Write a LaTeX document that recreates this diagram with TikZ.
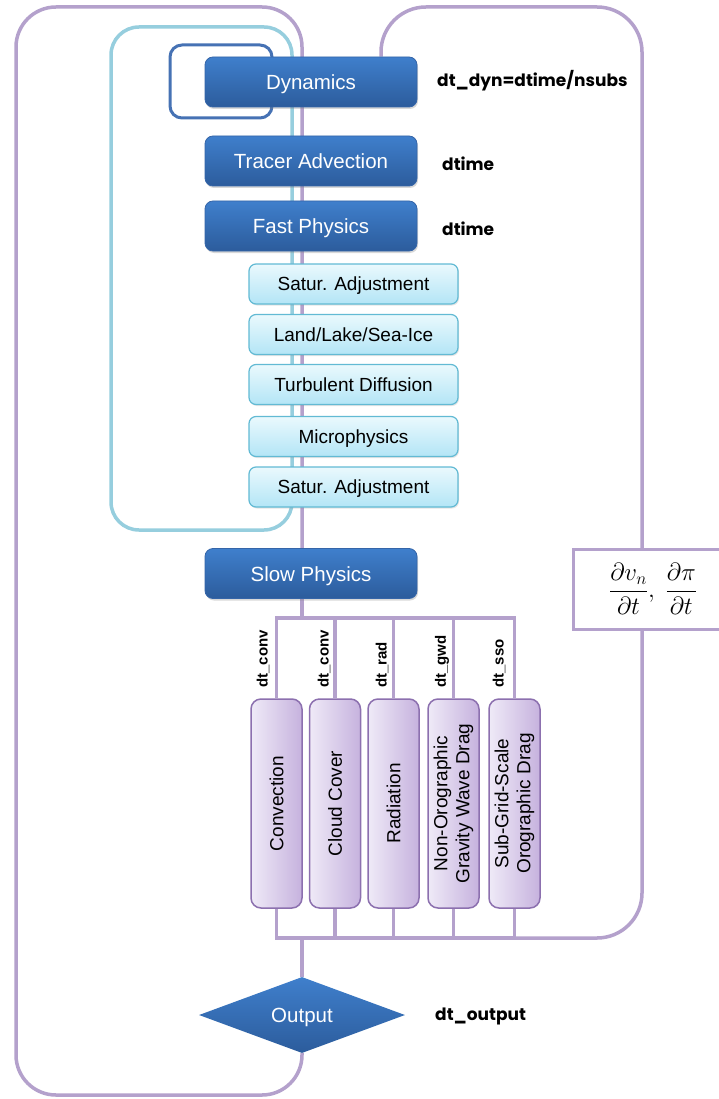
\documentclass[tikz,border=0pt]{standalone}
\usepackage{fontspec}
\setmainfont{Liberation Sans}
\newfontfamily\lblfont{Poppins}
\usetikzlibrary{shapes.geometric,shadows}
\definecolor{dkTop}{HTML}{3F7FCC}
\definecolor{dkBot}{HTML}{2C5C9C}
\definecolor{dkBorder}{HTML}{3565A8}
\definecolor{cyTop}{HTML}{EAF9FD}
\definecolor{cyBot}{HTML}{B3E5F6}
\definecolor{cyBorder}{HTML}{62BAD4}
\definecolor{puLight}{HTML}{EFEAF7}
\definecolor{puDark}{HTML}{C6B2DE}
\definecolor{puBorder}{HTML}{8C70AF}
\definecolor{plc}{HTML}{B4A1CC}
\definecolor{cyLoop}{HTML}{96CEDE}
\definecolor{blLoop}{HTML}{4672B4}
\pgfdeclarelayer{back}
\pgfdeclarelayer{bg}
\pgfsetlayers{back,bg,main}
\tikzset{
  darkbox/.style={rounded corners=8pt, minimum width=212pt, minimum height=50pt,
    top color=dkTop, bottom color=dkBot, draw=dkBorder, line width=0.8pt,
    text=white, font=\fontsize{20.5}{24}\selectfont, text height=15pt, text depth=0pt,
    drop shadow={shadow xshift=1pt, shadow yshift=-2pt, opacity=.3}},
  cyanbox/.style={rounded corners=7pt, minimum width=209pt, minimum height=40pt,
    top color=cyTop, bottom color=cyBot, draw=cyBorder, line width=1.2pt,
    text=black, font=\fontsize{19}{22}\selectfont, text height=13.5pt, text depth=0pt,
    drop shadow={shadow xshift=1pt, shadow yshift=-1.5pt, opacity=.2}},
  purplebox/.style={rotate=90, rounded corners=10pt, minimum width=209pt, minimum height=51pt,
    left color=puLight, right color=puDark, draw=puBorder, line width=1.5pt,
    text=black, align=center, inner sep=1pt, font=\fontsize{19}{22}\selectfont},
  outdiam/.style={diamond, aspect=2.7, inner sep=0pt, minimum width=206pt, minimum height=76pt,
    top color=dkTop, bottom color=dkBot, text=white, font=\fontsize{20.5}{24}\selectfont,
    text height=15pt, text depth=0pt},
  lbl/.style={anchor=west, inner sep=0pt, font=\lblfont\bfseries\fontsize{17}{20}\selectfont},
  rlbl/.style={rotate=90, anchor=west, inner sep=0pt, font=\bfseries\fontsize{15}{18}\selectfont},
  pline/.style={draw=plc, line width=3.5pt},
  cyanloop/.style={draw=cyLoop, line width=3.5pt, rounded corners=28pt},
  blueloop/.style={draw=blLoop, line width=3pt, rounded corners=12pt},
  formbox/.style={draw=plc, line width=3pt, fill=white, minimum width=160pt, minimum height=80pt,
    font=\fontsize{24}{28}\selectfont}
}
\begin{document}
\begin{tikzpicture}[x=1pt,y=-1pt]
\useasboundingbox (0,0) rectangle (718,1099);
\begin{pgfonlayer}{back}
  \fill[white] (0,0) rectangle (718,1099);
\end{pgfonlayer}
\coordinate (busT) at (0,618);
\coordinate (busB) at (0,938);
\coordinate (spine) at (302,0);
\coordinate (rl) at (381,0);

% loops in the background
\draw[cyanloop] (111,27) rectangle (292,530);
\draw[blueloop] (170,45) rectangle (272,118);

% main column
\node[darkbox] (dyn) at (311,82) {Dynamics};
\node[darkbox] (tracer) at (311,161) {Tracer Advection};
\node[darkbox] (fast) at (311,226) {Fast Physics};
\node[cyanbox] (sat1) at (353.5,284) {Satur. Adjustment};
\node[cyanbox] (land) at (353.5,334.5) {Land/Lake/Sea-Ice};
\node[cyanbox] (turb) at (353.5,384.5) {Turbulent Diffusion};
\node[cyanbox] (micro) at (353.5,436.5) {Microphysics};
\node[cyanbox] (sat2) at (353.5,487) {Satur. Adjustment};
\node[darkbox] (slow) at (311,573.5) {Slow Physics};

% slow physics boxes
\node[purplebox] (conv) at (276.5,803.5) {Convection};
\node[purplebox] (cloud) at (335,803.5) {Cloud Cover};
\node[purplebox] (rad) at (393.5,803.5) {Radiation};
\node[purplebox] (gwd) at (453.5,803.5) {Non-Orographic\\Gravity Wave Drag};
\node[purplebox] (sso) at (514.5,803.5) {Sub-Grid-Scale\\Orographic Drag};

% output
\node[outdiam] (out) at (302,1015) {Output};

% labels
\node[lbl] (ldyn) at (437,81) {dt\_dyn=dtime/nsubs};
\node[lbl] (ltr) at (442,164) {dtime};
\node[lbl] (lfast) at (442,229) {dtime};
\node[lbl] (lout) at (435,1016) {dt\_output};
\node[rlbl] (lconv) at (263,688) {dt\_conv};
\node[rlbl] (lcloud) at (324,688) {dt\_conv};
\node[rlbl] (lrad) at (382,688) {dt\_rad};
\node[rlbl] (lgwd) at (442,688) {dt\_gwd};
\node[rlbl] (lsso) at (499,688) {dt\_sso};

\begin{pgfonlayer}{bg}
  % left loop
  \draw[pline, rounded corners=40pt] (spine |- slow.north) -- (302,7) -- (16,7) -- (16,1095) -- (302,1095) -- (out.south);
  % slow physics to top bus
  \draw[pline] (spine |- slow.south) -- (spine |- busT);
  \draw[pline] (conv) -- (conv |- busT) -- (sso |- busT) -- (sso);
  \foreach \n in {cloud,rad,gwd} \draw[pline] (\n |- busT) -- (\n);
  % bottom bus
  \draw[pline] (conv) -- (conv |- busB) -- (sso |- busB) -- (sso);
  \foreach \n in {cloud,rad,gwd} \draw[pline] (\n) -- (\n |- busB);
  \draw[pline] (spine |- busB) -- (out);
  % right loop
  \draw[pline, rounded corners=45pt] (sso |- busB) -- (642,938) -- (642,7) -- (381,7) -- (rl |- dyn.north);
\end{pgfonlayer}

% formula box (over the right loop)
\node[formbox] (form) at (653,589) {$\displaystyle\frac{\partial v_n}{\partial t},\ \frac{\partial \pi}{\partial t}$};
\end{tikzpicture}
\end{document}
